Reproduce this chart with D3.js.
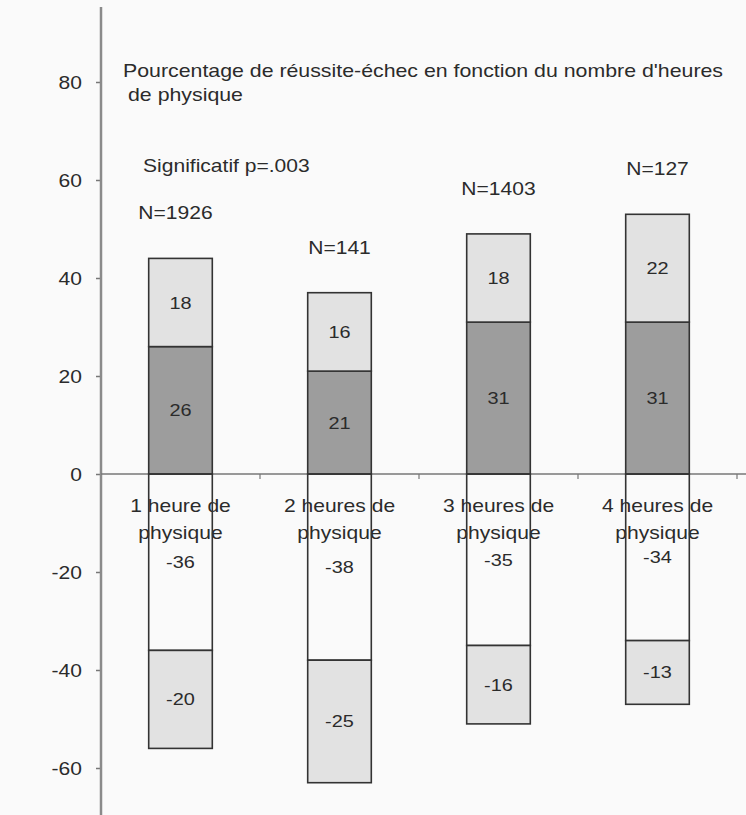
<!DOCTYPE html>
<html lang="fr">
<head>
  <meta charset="utf-8">
  <title>Pourcentage de réussite-échec</title>
  <script src="https://d3js.org/d3.v7.min.js"></script>
  <style>
    body {
      margin: 0;
      background: #fafafa;
      font-family: "Liberation Sans", Arial, sans-serif;
    }
    svg text {
      fill: #2b2b2b;
    }
  </style>
</head>
<body>
  <svg width="746" height="815"></svg>

  <script>
  // data
  const categories = ["1 heure de physique", "2 heures de physique", "3 heures de physique", "4 heures de physique"];
  const catLines = [["1 heure de", "physique"], ["2 heures de", "physique"], ["3 heures de", "physique"], ["4 heures de", "physique"]];
  const nCounts = [1926, 141, 1403, 127];
  const reussite = [26, 21, 31, 31];        // dark, above 0
  const reussiteHaut = [18, 16, 18, 22];    // light, on top
  const echec = [-36, -38, -35, -34];       // white, below 0
  const echecBas = [-20, -25, -16, -13];    // light, bottom
  const yTicks = [-60, -40, -20, 0, 20, 40, 60, 80];

  const svg = d3.select("svg");
  const width = 746, height = 815;
  const SX = 1.17; // the scan's text is a bit wider than Arial

  // text stretched horizontally around its anchor point
  function label(g, px, py, str, size, anchor, sx) {
    return g.append("text")
      .attr("transform", `translate(${px},${py}) scale(${sx || SX},1)`)
      .attr("text-anchor", anchor || "middle")
      .attr("font-size", size)
      .text(str);
  }

  const x = d3.scaleBand()
    .domain(categories)
    .range([101, 737])
    .padding(0);
  const barW = x.bandwidth() * 0.4;

  const y = d3.scaleLinear()
    .domain([-60, 80])
    .range([768, 82]);

  // stacked table
  const keys = ["reussite", "reussiteHaut", "echec", "echecBas"];
  const rows = categories.map((c, i) => ({
    cat: c,
    reussite: reussite[i],
    reussiteHaut: reussiteHaut[i],
    echec: echec[i],
    echecBas: echecBas[i]
  }));
  const series = d3.stack().keys(keys).offset(d3.stackOffsetDiverging)(rows);
  const fills = { reussite: "#9d9d9d", reussiteHaut: "#e2e2e2", echec: "none", echecBas: "#e2e2e2" };

  // y axis
  const yAxis = svg.append("g")
    .attr("transform", "translate(101,0)")
    .call(d3.axisLeft(y).tickValues(yTicks).tickSize(5).tickFormat(d => String(d)));
  yAxis.select(".domain").remove();
  yAxis.selectAll(".tick line").attr("stroke", "#777").attr("stroke-width", 1.5);
  yAxis.selectAll(".tick text")
    .attr("x", 0)
    .attr("dy", "0.34em")
    .attr("transform", `translate(-19,0) scale(${SX},1)`)
    .attr("font-size", 18)
    .attr("font-family", "Liberation Sans, Arial, sans-serif")
    .attr("fill", "#2b2b2b");

  svg.append("line")
    .attr("x1", 101).attr("x2", 101)
    .attr("y1", 7).attr("y2", height)
    .attr("stroke", "#8a8a8a")
    .attr("stroke-width", 2.5);

  // zero line with category ticks
  svg.append("line")
    .attr("x1", 101).attr("x2", width)
    .attr("y1", y(0)).attr("y2", y(0))
    .attr("stroke", "#777")
    .attr("stroke-width", 1.5);
  svg.append("g").selectAll("line")
    .data(categories.slice(1).concat(["end"]))
    .join("line")
    .attr("x1", d => d === "end" ? x.range()[1] : x(d))
    .attr("x2", d => d === "end" ? x.range()[1] : x(d))
    .attr("y1", y(0))
    .attr("y2", y(0) + 5)
    .attr("stroke", "#777")
    .attr("stroke-width", 1.2);

  const cx = d => x(d) + x.bandwidth() / 2;

  // category labels (under the bar outlines, like the scan)
  const catG = svg.append("g");
  categories.forEach((c, i) => {
    label(catG, cx(c), y(0) + 38, catLines[i][0], 18);
    label(catG, cx(c), y(0) + 65, catLines[i][1], 18);
  });

  // bars
  svg.append("g").selectAll("g")
    .data(series)
    .join("g")
    .attr("fill", s => fills[s.key])
    .selectAll("rect")
    .data(s => s)
    .join("rect")
    .attr("x", d => cx(d.data.cat) - barW / 2)
    .attr("width", barW)
    .attr("y", d => y(d[1]))
    .attr("height", d => y(d[0]) - y(d[1]))
    .attr("stroke", "#333")
    .attr("stroke-width", 1.6);

  // value labels
  const valG = svg.append("g");
  series.forEach(s => {
    s.forEach(d => {
      label(valG, cx(d.data.cat), y((d[0] + d[1]) / 2) + 6, d.data[s.key], 17);
    });
  });

  // N labels above the bars
  const nG = svg.append("g");
  categories.forEach((c, i) => {
    label(nG, cx(c) - (i === 0 ? 5 : 0), y(reussite[i] + reussiteHaut[i]) - 39, "N=" + nCounts[i], 18);
  });

  // title and note
  const tG = svg.append("g");
  label(tG, 123, 77, "Pourcentage de réussite-échec en fonction du nombre d'heures", 18, "start", 1.185);
  label(tG, 128, 101, "de physique", 18, "start", 1.185);
  label(tG, 143, 172, "Significatif p=.003", 18, "start");
</script>

</body>
</html>
